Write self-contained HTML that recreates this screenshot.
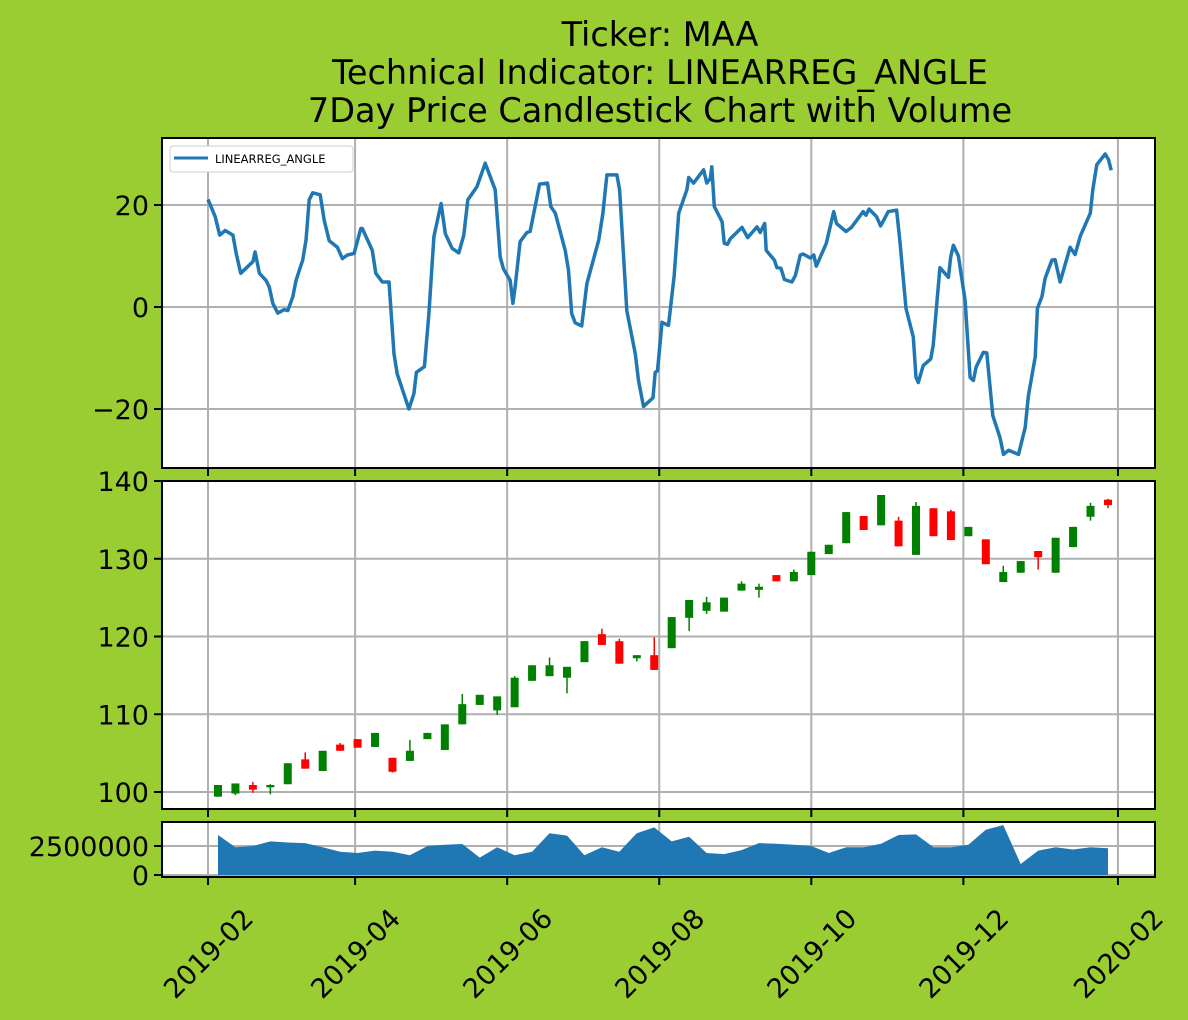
<!DOCTYPE html>
<html><head><meta charset="utf-8"><style>
html,body{margin:0;padding:0;background:#9acd32;}
svg{display:block;font-family:"DejaVu Sans","Liberation Sans",sans-serif;}
</style></head><body>
<svg id="fig" width="1188" height="1020" viewBox="0 0 1188 1020">
<rect width="1188" height="1020" fill="#9acd32"/>
<g font-size="33.5" text-anchor="middle" fill="#000">
<text x="660" y="46">Ticker: MAA</text>
<text x="660" y="84">Technical Indicator: LINEARREG_ANGLE</text>
<text x="660" y="122">7Day Price Candlestick Chart with Volume</text>
</g>
<g id="g-ind"></g>
<g id="g-price"></g>
<g id="g-vol"></g>
<g id="g-xlab"></g>
</svg>
<script>
// ---- data ----
const indDays = [0,2.9,4.7,6.9,10,11.3,13.1,18,18.9,20.6,23.3,24.6,26,28,30.6,32,34,35.3,38,39.3,40.6,42,45,46.6,48.6,51.9,53.9,55.9,58.6,61.3,61.9,65.9,67.3,69.9,72.6,74.6,75.9,80.6,82.6,83.6,86.8,88.6,90.6,93.5,95.2,97.9,100.6,102.6,104.2,107.9,111.2,115.2,117.2,118.5,121.2,122.3,123.2,125.2,127.9,129.2,130.8,133,136.2,137.5,139.3,143.3,144.6,145.9,147.3,149.9,152,156.7,158.4,160,164,165.1,168,171.4,172.7,174.7,178.5,179.4,180.3,182.1,184.7,187,188.8,192.1,192.8,194.8,196.8,198.8,200.1,201.5,202.1,203.1,206.2,207.1,208.4,209.5,214.2,216.5,220.2,221.5,223.3,223.9,227.2,228.2,229.8,231.2,234.2,235.6,237.6,238.7,241.6,243,244,248,251,252.1,255.9,258.1,262.8,263.9,265.2,268.2,269.8,272.9,276.2,277.6,280,282.9,284,284.9,286.9,289.9,290.9,293.6,297,297.9,299,301,303.7,305.7,307,308.1,311,312.4,314.8,317.7,319.1,321.1,325.1,327.8,329.1,331.8,332.7,334.5,335.8,338.5,339.8,341.8,345.8,347.8,349.9,353.9,354.9,356.5,359.9,361.2,362.3];
const indValues = [21.1,17.7,14.1,15,14.1,10.5,6.6,8.9,10.8,6.6,5.2,3.9,0.7,-1.2,-0.5,-0.7,2,5.2,9.2,13.1,21,22.4,22,17,13,11.7,9.5,10.2,10.5,15.4,15.4,11.1,6.6,4.9,4.9,-9.2,-13.1,-20,-17,-12.8,-11.7,-1.3,13.8,20.3,14.4,11.5,10.6,14.1,21,23.6,28.2,23,9.8,7.5,5.2,0.7,3.9,12.8,14.6,14.8,18.7,24.1,24.3,19.7,18.4,11.1,7.2,-1.3,-3.1,-3.7,4.6,13.1,18.4,25.9,25.9,23,-0.7,-9.2,-14.4,-19.5,-17.8,-12.8,-12.5,-3,-3.6,6.2,18.4,23,25.4,24.3,25.6,26.9,24.3,25.2,27.5,19.7,16.7,12.5,12.3,13.4,15.6,13.6,15.7,14.6,16.4,11.1,9.2,7.7,7.6,5.4,4.9,6.2,10.2,10.4,9.6,10.2,8,12.5,18.7,16.4,14.8,15.6,18.7,18,19.2,17.7,15.9,18.7,19,12.5,-0.3,-5.9,-13.8,-14.8,-11.5,-10.2,-7.5,7.7,5.8,9.8,12.1,10,1.3,-13.8,-14.4,-11.8,-8.9,-9,-21.3,-25.6,-28.9,-28.1,-28.9,-23.6,-17.4,-9.8,-0.3,2,5.6,9.2,9.3,4.9,11.7,10.3,13.9,18.4,23,27.9,30,28.9,26.8];
const candleDays = [4,11,18,25,32,39,46,53,60,67,74,81,88,95,102,109,116,123,130,137,144,151,158,165,172,179,186,193,200,207,214,221,228,235,242,249,256,263,270,277,284,291,298,305,312,319,326,333,340,347,354,361];
const opens  = [99.4,99.8,100.9,100.6,101.0,104.2,102.7,106.1,106.8,105.8,104.4,104.0,106.8,105.4,108.7,111.2,110.5,110.9,114.3,114.9,114.7,116.7,120.3,119.4,117.2,117.6,118.5,122.4,123.3,123.2,125.9,126.0,127.9,127.1,127.9,130.6,132.0,135.5,134.3,134.9,130.5,136.5,136.1,132.9,132.5,127.0,128.2,131.0,128.2,131.5,135.4,137.6];
const closes = [100.9,101.1,100.3,100.9,103.7,103.0,105.3,105.3,105.7,107.6,102.6,105.3,107.6,108.7,111.3,112.5,112.3,114.7,116.3,116.3,116.1,119.4,118.9,116.5,117.6,115.7,122.5,124.7,124.4,125.0,126.8,126.4,127.1,128.3,130.9,131.8,136.0,133.7,138.2,131.6,136.8,132.9,132.4,134.1,129.3,128.3,129.7,130.2,132.7,134.1,136.8,136.9];
const highs  = [100.9,101.1,101.3,101.0,103.7,105.1,105.3,106.3,106.8,107.6,104.4,106.7,107.6,108.7,112.6,112.5,112.3,114.9,116.3,117.3,116.1,119.4,121.0,119.7,117.6,119.9,122.5,124.7,125.1,125.0,127.1,126.8,127.9,128.6,130.9,131.8,136.0,135.5,138.2,135.4,137.3,136.5,136.3,134.1,132.5,129.1,129.7,131.0,132.7,134.1,137.2,137.7];
const lows   = [99.4,99.6,99.9,99.7,101.0,103.0,102.7,105.3,105.7,105.8,102.5,104.0,107.5,105.4,108.7,111.2,109.9,110.9,114.3,114.9,112.7,116.7,118.9,116.5,116.8,115.7,118.5,120.7,122.9,123.2,125.9,125.0,127.1,127.1,127.9,130.6,132.0,133.7,134.3,131.6,130.5,132.9,132.4,132.9,129.3,127.0,128.2,128.6,128.2,131.5,134.9,136.5];
const volumes = [3.45,2.4,2.5,2.9,2.8,2.75,2.4,2.0,1.9,2.1,2.0,1.7,2.5,2.6,2.67,1.5,2.4,1.7,2.0,3.6,3.4,1.7,2.4,2.0,3.6,4.1,2.9,3.3,1.9,1.8,2.15,2.75,2.7,2.6,2.5,1.9,2.4,2.4,2.7,3.45,3.5,2.4,2.4,2.6,3.9,4.3,0.95,2.1,2.4,2.2,2.4,2.3];
const xTickDays = [0,59,120,181,242,303,365];
const xTickLabels = ["2019-02","2019-04","2019-06","2019-08","2019-10","2019-12","2020-02"];
const indTicks = [20,0,-20];
const indTickLabels = ["20","0","\u221220"];
const priceTicks = [100,110,120,130,140];
const volTicks = [0,2.5];
const volTickLabels = ["0","2500000"];

// ---- scales ----
const NS = "http://www.w3.org/2000/svg";
const X0 = 162, X1 = 1155;
function x(d){ return 208 + d * 2.493; }
function lin(d0,d1,r0,r1){ return v => r0 + (v - d0) * (r1 - r0) / (d1 - d0); }
const yInd = lin(0,20,307,205);
const yPrice = lin(100,140,792,481);
const yVol = lin(0,2.5,875,846);
const panels = [
  {g:'g-ind', top:138, bot:468},
  {g:'g-price', top:481, bot:809},
  {g:'g-vol', top:822, bot:877}
];
function el(tag, attrs, parent){
  const e = document.createElementNS(NS, tag);
  for (const k in attrs) e.setAttribute(k, attrs[k]);
  parent.appendChild(e);
  return e;
}
function frame(p, yTicks, yScale, labels, name){
  const g = document.getElementById(p.g);
  const bg = el('rect',{x:X0,y:p.top,width:X1-X0,height:p.bot-p.top,fill:'#fff'},g);
  
  
  xTickDays.forEach(d => {
    const gl = el('line',{x1:x(d),x2:x(d),y1:p.top,y2:p.bot,stroke:'#b0b0b0','stroke-width':2},g);
    
    
    const tk = el('line',{x1:x(d),x2:x(d),y1:p.bot,y2:p.bot+8,stroke:'#000','stroke-width':2},g);
    
    
  });
  yTicks.forEach((v,i) => {
    const y = yScale(v);
    const gl = el('line',{x1:X0,x2:X1,y1:y,y2:y,stroke:'#b0b0b0','stroke-width':2},g);
    
    
    const tk = el('line',{x1:X0-8,x2:X0,y1:y,y2:y,stroke:'#000','stroke-width':2},g);
    
    
    const t = el('text',{x:X0-13,y:y+10,'font-size':27,'text-anchor':'end',fill:'#000'},g);
    t.textContent = labels[i];
    
    
  });
  return g;
}
function border(p, g, name){
  const b = el('rect',{x:X0,y:p.top,width:X1-X0,height:p.bot-p.top,fill:'none',stroke:'#000','stroke-width':2},g);
  
  
}

// indicator panel
{
  const p = panels[0];
  const g = frame(p, indTicks, yInd, indTickLabels, 'indicator');
  const pts = indDays.map((d,i) => x(d).toFixed(1) + ',' + yInd(indValues[i]).toFixed(1)).join(' ');
  const line = el('polyline',{points:pts,fill:'none',stroke:'#1f77b4','stroke-width':3.5,'stroke-linejoin':'round'},g);
  
  
  const lg = el('g',{},g);
  
  
  el('rect',{x:170,y:146,width:183,height:26,rx:3,fill:'#fff',stroke:'#ccc','stroke-width':1},lg);
  const ls = el('line',{x1:174,x2:208,y1:158,y2:158,stroke:'#1f77b4','stroke-width':3},lg);
  
  
  const lt = el('text',{x:215,y:163,'font-size':11.5,fill:'#000'},lg);
  lt.textContent = 'LINEARREG_ANGLE';
  
  
  border(p, g, 'indicator');
}
// price panel
{
  const p = panels[1];
  const g = frame(p, priceTicks, yPrice, priceTicks.map(String), 'price');
  candleDays.forEach((d,i) => {
    const up = closes[i] >= opens[i];
    const col = up ? '#008000' : '#ff0000';
    const cx = x(d);
    const cg = el('g',{},g);
    
    
    const w = el('line',{x1:cx,x2:cx,y1:yPrice(highs[i]),y2:yPrice(lows[i]),stroke:col,'stroke-width':1.5},cg);
    
    
    const top = yPrice(Math.max(opens[i],closes[i]));
    const bot = yPrice(Math.min(opens[i],closes[i]));
    const b = el('rect',{x:cx-4,y:top,width:8,height:Math.max(1,bot-top),fill:col},cg);
    
    
  });
  border(p, g, 'price');
}
// volume panel
{
  const p = panels[2];
  const g = frame(p, volTicks, yVol, volTickLabels, 'volume');
  let d = 'M' + x(candleDays[0]) + ',' + yVol(0);
  candleDays.forEach((dd,i) => { d += ' L' + x(dd).toFixed(1) + ',' + yVol(volumes[i]).toFixed(1); });
  d += ' L' + x(candleDays[candleDays.length-1]) + ',' + yVol(0) + ' Z';
  const a = el('path',{d:d,fill:'#1f77b4'},g);
  
  
  border(p, g, 'volume');
}
// x labels
{
  const g = document.getElementById('g-xlab');
  xTickDays.forEach((dd,i) => {
    const cx = x(dd), cy = 953;
    const t = el('text',{x:cx,y:cy+10,'font-size':27,'text-anchor':'middle',fill:'#000',transform:'rotate(-45 '+cx+' '+cy+')'},g);
    t.textContent = xTickLabels[i];
    
    
  });
}
</script>
</body></html>
